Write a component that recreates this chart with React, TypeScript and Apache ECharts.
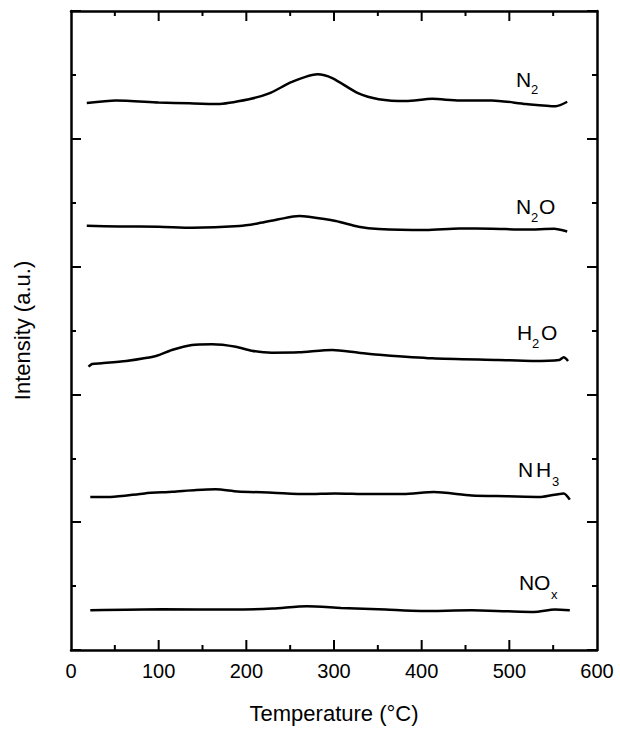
import React, { useEffect, useRef } from "react";
import * as echarts from "echarts";

// Temperature (°C) and intensity (a.u., offset traces)
const N2_T = [18, 51, 100, 135, 167, 203, 226, 252, 281, 298, 328, 351, 382, 412, 443, 480, 519, 553, 566];
const N2_V = [8.56, 8.6, 8.57, 8.555, 8.545, 8.62, 8.71, 8.89, 9.01, 8.95, 8.71, 8.62, 8.59, 8.625, 8.6, 8.6, 8.545, 8.51, 8.58];

const N2O_T = [18, 55, 100, 138, 192, 214, 237, 260, 271, 302, 328, 351, 405, 443, 480, 519, 551, 566];
const N2O_V = [6.64, 6.627, 6.624, 6.609, 6.635, 6.678, 6.74, 6.792, 6.781, 6.714, 6.624, 6.588, 6.573, 6.598, 6.593, 6.58, 6.591, 6.549];

const H2O_T = [20, 24, 35, 63, 97, 115, 138, 161, 188, 206, 229, 260, 298, 328, 355, 412, 488, 526, 557, 562, 567];
const H2O_V = [4.433, 4.476, 4.487, 4.523, 4.601, 4.695, 4.773, 4.784, 4.746, 4.684, 4.653, 4.659, 4.695, 4.653, 4.617, 4.565, 4.538, 4.523, 4.538, 4.581, 4.523];

const NH3_T = [22, 45, 84, 116, 143, 165, 190, 230, 269, 301, 340, 379, 414, 457, 497, 536, 562, 569];
const NH3_V = [2.396, 2.396, 2.451, 2.477, 2.504, 2.515, 2.482, 2.462, 2.44, 2.451, 2.44, 2.44, 2.473, 2.418, 2.407, 2.396, 2.451, 2.354];

const NOX_T = [22, 104, 183, 230, 269, 308, 359, 399, 457, 497, 528, 552, 569];
const NOX_V = [0.621, 0.637, 0.632, 0.648, 0.685, 0.659, 0.632, 0.61, 0.621, 0.606, 0.595, 0.632, 0.621];

const X_MIN = 0;
const X_MAX = 600;
const X_STEP = 100;
const Y_MIN = 0;
const Y_MAX = 10;
const Y_STEP = 2;
// tick positions on the temperature axis (major every 100, minor at 50s)
const X_TICKS = [50, 100, 150, 200, 250, 300, 350, 400, 450, 500, 550];

const X_TITLE = "Temperature (°C)";
const Y_TITLE = "Intensity (a.u.)";

const FONT = "'Liberation Sans', Arial, Helvetica, sans-serif";

const zip = (t: number[], v: number[]) => t.map((x, i) => [x, v[i]]);

const LINE = { show: true, onZero: false, lineStyle: { color: "#000", width: 2.5 } };
const TICKS = {
  axisTick: { show: true, inside: true, length: 10, lineStyle: { color: "#000", width: 2 } },
  minorTick: { show: true, splitNumber: 2, length: 5, lineStyle: { color: "#000", width: 2 } },
};
const NO_TICKS = { axisTick: { show: false }, minorTick: { show: false } };
const NO_GRID = { splitLine: { show: false }, minorSplitLine: { show: false } };

function txt(s: string, left: number, y: number, size: number) {
  return {
    type: "text",
    left,
    top: y - size / 2,
    style: { text: s, fontSize: size, fontFamily: FONT, fill: "#000" },
    z: 10,
  };
}

export default function App() {
  const ref = useRef<HTMLDivElement>(null);
  useEffect(() => {
    document.body.style.margin = "0";
    const chart = echarts.init(ref.current!, null, { renderer: "svg" });
    const lineSeries = (name: string, data: number[][]) => ({
      name,
      type: "line",
      data,
      showSymbol: false,
      smooth: 0.25,
      lineStyle: { color: "#000", width: 2.5 },
      xAxisIndex: 0,
      yAxisIndex: 0,
    });
    const xBase = { type: "value", min: X_MIN, max: X_MAX, interval: X_STEP, ...NO_GRID };
    const yBase = { type: "value", min: Y_MIN, max: Y_MAX, interval: Y_STEP, ...NO_GRID };
    chart.setOption({
      animation: false,
      backgroundColor: "#fff",
      grid: { left: 71, right: 23, top: 11, bottom: 86 },
      xAxis: [
        {
          ...xBase,
          position: "bottom",
          name: X_TITLE,
          nameLocation: "middle",
          nameGap: 52,
          nameTextStyle: { color: "#000", fontSize: 22, fontFamily: FONT },
          axisLine: LINE,
          ...NO_TICKS,
          axisLabel: { show: true, color: "#000", fontSize: 20, fontFamily: FONT, margin: 11 },
        },
        { ...xBase, position: "top", axisLine: LINE, ...NO_TICKS, axisLabel: { show: false } },
      ],
      yAxis: [
        {
          ...yBase,
          position: "left",
          name: Y_TITLE,
          nameLocation: "middle",
          nameGap: 38,
          nameRotate: 90,
          nameTextStyle: { color: "#000", fontSize: 22, fontFamily: FONT },
          axisLine: LINE,
          ...TICKS,
          axisLabel: { show: false },
        },
        { ...yBase, position: "right", axisLine: LINE, ...TICKS, axisLabel: { show: false } },
      ],
      series: [
        lineSeries("N2", zip(N2_T, N2_V)),
        lineSeries("N2O", zip(N2O_T, N2O_V)),
        lineSeries("H2O", zip(H2O_T, H2O_V)),
        lineSeries("NH3", zip(NH3_T, NH3_V)),
        lineSeries("NOx", zip(NOX_T, NOX_V)),
        {
          name: "xticks",
          type: "custom",
          silent: true,
          clip: false,
          z: 5,
          xAxisIndex: 0,
          yAxisIndex: 0,
          data: X_TICKS.map((v) => [v, Y_MIN]),
          renderItem: (_params: any, api: any) => {
            const v = api.value(0);
            const len = v % X_STEP === 0 ? 10 : 5;
            const b = api.coord([v, Y_MIN]);
            const t = api.coord([v, Y_MAX]);
            const style = { stroke: "#000", lineWidth: 2 };
            return {
              type: "group",
              children: [
                { type: "line", shape: { x1: b[0], y1: b[1], x2: b[0], y2: b[1] - len }, style },
                { type: "line", shape: { x1: t[0], y1: t[1], x2: t[0], y2: t[1] + len }, style },
              ],
            };
          },
        },
      ],
      graphic: [
        txt("N", 516, 79.5, 21),
        txt("2", 531, 89, 13),
        txt("N", 516, 206.5, 21),
        txt("2", 531, 217.5, 13),
        txt("O", 539, 206.5, 21),
        txt("H", 517, 332.5, 21),
        txt("2", 532, 343.5, 13),
        txt("O", 541, 332.5, 21),
        txt("N", 518, 469.5, 21),
        txt("H", 536, 469.5, 21),
        txt("3", 552, 481, 13),
        txt("N", 519, 582.5, 21),
        txt("O", 534, 582.5, 21),
        txt("x", 551, 594.5, 13),
      ],
    });
    return () => chart.dispose();
  }, []);
  return (
    <div
      ref={ref}
      style={{ position: "fixed", left: 0, top: 0, width: 620, height: 736, background: "#fff" }}
    />
  );
}
